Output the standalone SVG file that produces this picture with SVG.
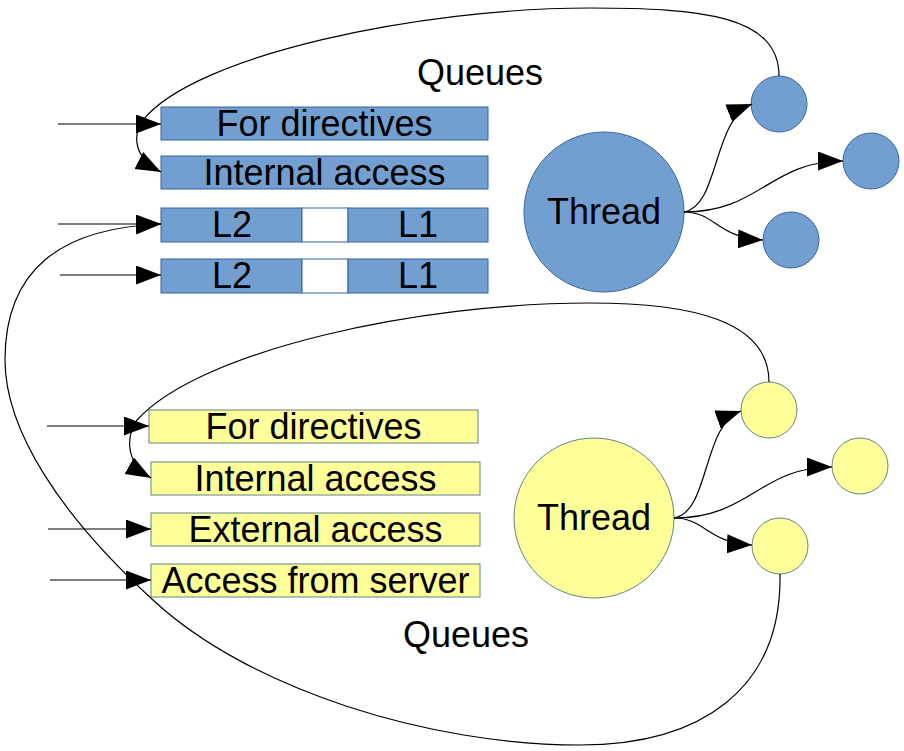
<svg xmlns="http://www.w3.org/2000/svg" width="904" height="751" viewBox="0 0 904 751">
<defs>
<marker id="ah" markerUnits="userSpaceOnUse" markerWidth="27" markerHeight="20" refX="25" refY="9.5" orient="auto">
<path d="M0,0 L25,9.5 L0,19 z" fill="#000"/>
</marker>
<style>
.b{fill:#729fcf;stroke:#3465a4;stroke-width:1}
.y{fill:#ffff99;stroke:#5f8585;stroke-width:1}
.w{fill:#fff;stroke:#3465a4;stroke-width:1}
.t{font-family:"Liberation Sans",Arial,sans-serif;font-size:36px;fill:#000;text-anchor:middle}
.c{fill:none;stroke:#000;stroke-width:1.2;marker-end:url(#ah)}
</style>
</defs>
<rect width="904" height="751" fill="#fff"/>
<g id="blue-for-directives"><rect class="b" x="161" y="107" width="327" height="33"/><text class="t" x="324.5" y="136">For directives</text></g>
<g id="blue-internal-access"><rect class="b" x="161" y="156" width="327" height="33"/><text class="t" x="324.5" y="185">Internal access</text></g>
<g id="blue-l2l1-a"><rect class="b" x="161" y="208" width="141" height="34"/><rect class="w" x="302" y="208" width="46" height="34"/><rect class="b" x="348" y="208" width="140" height="34"/><text class="t" x="232" y="237">L2</text><text class="t" x="418" y="237">L1</text></g>
<g id="blue-l2l1-b"><rect class="b" x="161" y="259" width="141" height="34"/><rect class="w" x="302" y="259" width="46" height="34"/><rect class="b" x="348" y="259" width="140" height="34"/><text class="t" x="232" y="288">L2</text><text class="t" x="418" y="288">L1</text></g>
<g id="blue-thread"><circle class="b" cx="604" cy="212" r="80"/><text class="t" x="604" y="224">Thread</text></g>
<g id="blue-c1"><circle class="b" cx="779" cy="104" r="28"/></g>
<g id="blue-c2"><circle class="b" cx="871" cy="161" r="28"/></g>
<g id="blue-c3"><circle class="b" cx="791" cy="240" r="28"/></g>
<g id="label-queues-top"><text class="t" x="480" y="85">Queues</text></g>
<g id="yellow-for-directives"><rect class="y" x="149" y="410" width="329" height="33"/><text class="t" x="313.5" y="439">For directives</text></g>
<g id="yellow-internal-access"><rect class="y" x="151" y="462" width="329" height="33"/><text class="t" x="315.5" y="491">Internal access</text></g>
<g id="yellow-external-access"><rect class="y" x="151" y="513" width="329" height="33"/><text class="t" x="315.5" y="542">External access</text></g>
<g id="yellow-access-server"><rect class="y" x="151" y="564" width="329" height="33"/><text class="t" x="315.5" y="593">Access from server</text></g>
<g id="yellow-thread"><circle class="y" cx="594" cy="518" r="80"/><text class="t" x="594" y="530">Thread</text></g>
<g id="yellow-c1"><circle class="y" cx="769" cy="410" r="28"/></g>
<g id="yellow-c2"><circle class="y" cx="860" cy="466" r="28"/></g>
<g id="yellow-c3"><circle class="y" cx="780" cy="546" r="28"/></g>
<g id="label-queues-bottom"><text class="t" x="466" y="647">Queues</text></g>
<g id="connectors">
<path class="c" d="M58,124 L161,124"/>
<path class="c" d="M58,224 L161,224"/>
<path class="c" d="M60,275 L161,275"/>
<path class="c" d="M47,426 L149,426"/>
<path class="c" d="M48,529 L151,529"/>
<path class="c" d="M50,580 L151,580"/>
<path class="c" d="M779,76 C779,15 700,8 590,8 C420,8 195,55 143,120 C132,136 134,158 161,172"/>
<path class="c" d="M769,382 C769,320 690,303 590,303 C420,303 200,350 137,420 C124,440 128,465 151,478"/>
<path class="c" d="M780,574 C782,690 700,745 580,745 C430,745 250,690 153,600 C60,515 5,430 5,360 C5,270 60,228 161,224"/>
<path class="c" d="M684,212 C720,205 712,120 752,104"/>
<path class="c" d="M684,212 C760,212 770,161 843,161"/>
<path class="c" d="M684,212 C715,212 718,238 763,240"/>
<path class="c" d="M674,518 C710,512 702,425 741,411"/>
<path class="c" d="M674,518 C750,518 760,467 832,467"/>
<path class="c" d="M674,518 C705,518 708,543 752,545"/>
</g>
</svg>
